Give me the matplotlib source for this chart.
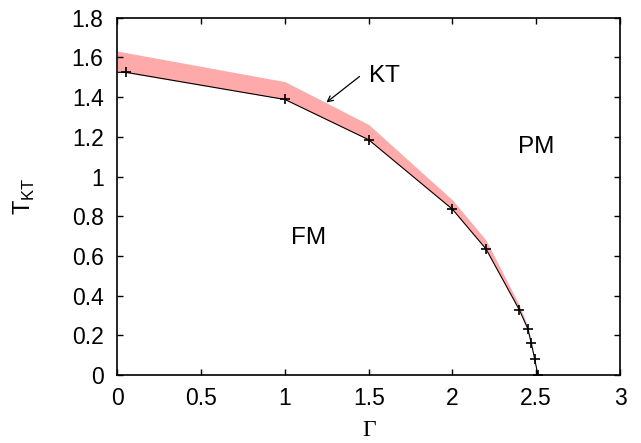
import matplotlib
matplotlib.use("Agg")
import matplotlib.pyplot as plt

# Данные
gamma = [0.0, 0.05, 1.0, 1.5, 2.0, 2.2, 2.4, 2.45, 2.47, 2.49, 2.51]
t_kt = [1.525, 1.525, 1.388, 1.185, 0.835, 0.635, 0.327, 0.232, 0.162, 0.083, 0.0]

# Полоса погрешности (нижняя граница совпадает с линией)
band_x = [0.0, 1.0, 1.5, 2.0, 2.2, 2.4, 2.45, 2.47, 2.49, 2.51]
band_low = [1.53, 1.388, 1.185, 0.835, 0.635, 0.327, 0.232, 0.162, 0.083, 0.0]
band_high = [1.632, 1.478, 1.262, 0.882, 0.68, 0.352, 0.245, 0.17, 0.088, 0.0]

x_ticks = [0, 0.5, 1, 1.5, 2, 2.5, 3]
y_ticks = [0, 0.2, 0.4, 0.6, 0.8, 1, 1.2, 1.4, 1.6, 1.8]

plt.rcParams['font.family'] = ['Liberation Sans', 'DejaVu Sans']
plt.rcParams['mathtext.fontset'] = 'custom'
plt.rcParams['mathtext.rm'] = 'Liberation Sans'

fig = plt.figure(figsize=(6.41, 4.43), dpi=100)
ax = fig.add_axes([0.1833, 0.1535, 0.7839, 0.8065])

ax.fill_between(band_x, band_low, band_high, color='#ffaaaa', linewidth=0, zorder=1)
ax.plot(gamma, t_kt, color='black', linewidth=0.8, zorder=2)
ax.plot(gamma[1:], t_kt[1:], linestyle='none', marker='+', markersize=6.5,
        markeredgewidth=1.2, color='black', zorder=3)

ax.set_xlim(0, 3)
ax.set_ylim(0, 1.8)
ax.set_xticks(x_ticks)
ax.set_xticklabels(['0', '0.5', '1', '1.5', '2', '2.5', '3'])
ax.set_yticks(y_ticks)
ax.set_yticklabels(['0', '0.2', '0.4', '0.6', '0.8', '1', '1.2', '1.4', '1.6', '1.8'])
ax.tick_params(direction='in', top=True, right=True, length=4.5, width=1,
               labelsize=16.5)
ax.tick_params(axis='y', pad=10)
ax.tick_params(axis='x', pad=9)
for s in ax.spines.values():
    s.set_linewidth(1.2)

ax.set_xlabel('Γ', fontsize=17, family='Liberation Serif')
ax.xaxis.set_label_coords(0.5, -0.125)
ax.set_ylabel(r'T$_\mathregular{KT}$', fontsize=17)
ax.yaxis.set_label_coords(-0.16, 0.5)

# Подписи фаз
ax.annotate('', xy=(1.247, 1.373), xytext=(1.445, 1.504),
            arrowprops=dict(arrowstyle='->', color='black', lw=0.9,
                            shrinkA=0, shrinkB=0))
ax.text(1.50, 1.504, 'KT', fontsize=17.5, ha='left', va='center')
ax.text(1.14, 0.69, 'FM', fontsize=17.5, ha='center', va='center')
ax.text(2.5, 1.15, 'PM', fontsize=17.5, ha='center', va='center')

fig.savefig('out.png', dpi=100)
